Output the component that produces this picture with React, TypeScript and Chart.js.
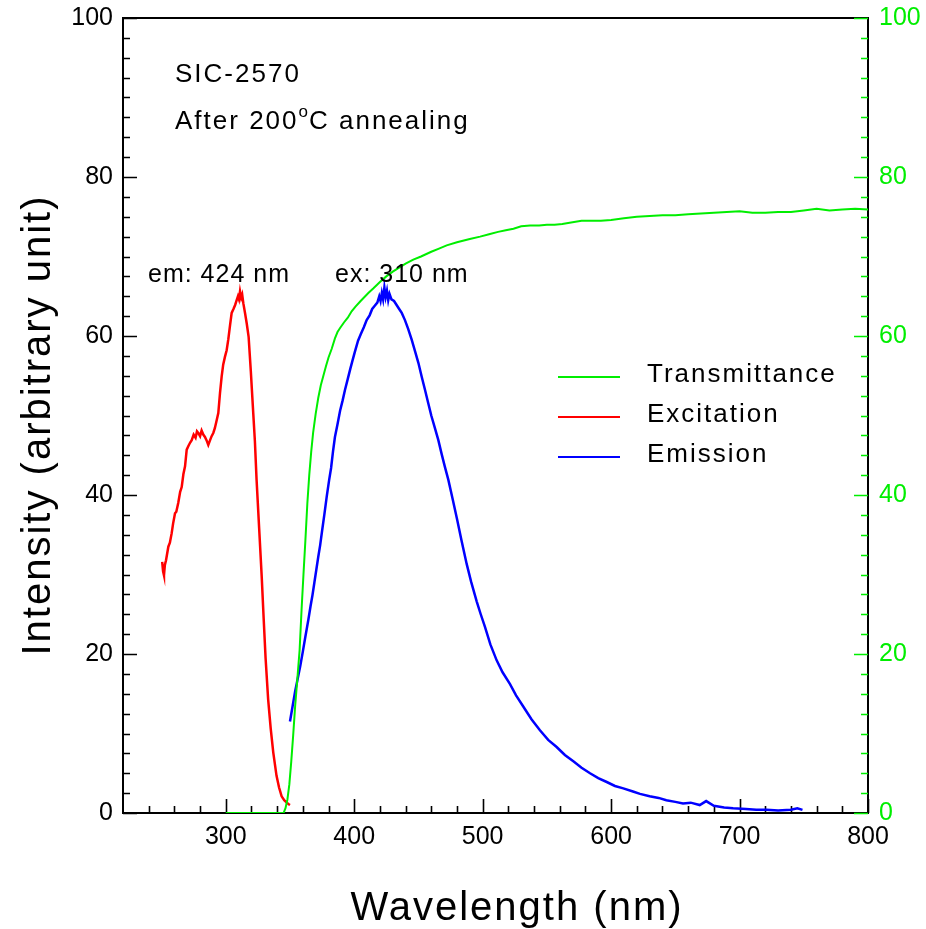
import React, { useEffect, useRef } from 'react';
import { Chart, registerables } from 'chart.js';

Chart.register(...registerables);

const GREEN = '#00ee00';
const RED = '#ff0000';
const BLUE = '#0000ff';
const FONT = 'Liberation Sans, Arial, Helvetica, sans-serif';

// Excitation (red), left axis
const excitationNm = [250.5, 251.2, 251.9, 252.6, 253.5, 255.3, 256.5, 257.9, 259, 260.5, 261.5, 263, 264.5, 265.7, 267, 268.3, 269.6, 271, 272.3, 273.5, 275, 276.5, 277.6, 278.6, 280, 281.2, 282.5, 283.8, 285, 286.4, 287.8, 289, 290.3, 291.5, 292.8, 294.2, 295.5, 296.8, 298, 299.4, 300.7, 302, 303.3, 304.6, 306, 307.3, 308.5, 309.5, 310.3, 311.1, 312, 312.8, 313.7, 315, 316.3, 317.8, 319.5, 321.4, 322.7, 324, 326, 328, 329.5, 331, 333, 335, 337, 339.5, 341.5, 343.5, 345.5, 347.5, 349, 350];
const excitationVal = [31.6, 30.4, 29.9, 31.2, 31.8, 33.5, 34.0, 35.2, 36.4, 37.7, 37.9, 39.0, 40.4, 41.0, 42.6, 43.6, 45.7, 46.2, 46.6, 46.9, 47.6, 47.2, 48.0, 47.8, 47.4, 48.1, 47.6, 47.3, 46.9, 46.3, 46.9, 47.4, 47.8, 48.4, 49.3, 50.3, 52.8, 54.9, 56.4, 57.4, 58.2, 59.6, 61.3, 62.9, 63.4, 63.9, 64.5, 65.0, 64.6, 65.6, 64.8, 65.2, 64.1, 62.9, 61.6, 59.9, 55.6, 50.3, 46.7, 41.9, 35.8, 29.7, 24.5, 19.5, 14.3, 10.6, 7.6, 4.7, 3.2, 2.1, 1.6, 1.3, 1.1, 1.0];

// Emission (blue), left axis
const emissionNm = [350, 352, 354, 356, 358, 360, 362, 364.3, 366, 367.5, 369, 370.5, 372, 373.5, 375, 376.8, 378.6, 380.5, 382, 383.5, 385, 387, 389, 391, 392.8, 395, 397, 398.5, 400.5, 403, 405, 407.5, 409.7, 412, 414, 416, 418, 419.5, 420.5, 421.5, 422.5, 423.5, 424.5, 425.5, 426.5, 427.5, 429, 431, 433, 435, 437, 439.5, 442, 444.8, 447.5, 450, 452.5, 455, 457.7, 460, 462.5, 465.5, 468, 470.5, 473.3, 476.5, 480, 483.5, 487.6, 491, 495.4, 498.5, 501.8, 506, 510.9, 515.5, 521.3, 526, 531.6, 538, 544.6, 551, 557.6, 564, 570.6, 577, 583.6, 590, 596.6, 603, 609.5, 617, 622.5, 630, 637, 643, 650, 656, 662, 669, 674, 680, 688, 695, 705, 713, 721, 730, 740, 745, 749];
const emissionVal = [11.5, 13.4, 15.3, 16.9, 18.5, 20.3, 22.2, 24.3, 26.0, 27.4, 29.0, 30.6, 32.2, 33.7, 35.5, 37.6, 39.8, 41.9, 43.4, 45.5, 47.3, 48.9, 50.6, 51.9, 53.2, 54.6, 55.9, 56.8, 58.0, 59.4, 60.2, 61.1, 62.0, 62.6, 63.4, 63.8, 64.2, 65.0, 64.4, 65.4, 64.6, 66.1, 64.9, 65.7, 64.5, 65.3, 64.6, 64.4, 63.9, 63.4, 62.9, 62.0, 60.9, 59.5, 58.0, 56.6, 54.9, 53.3, 51.5, 50.0, 48.6, 46.9, 45.2, 43.6, 41.9, 39.6, 37.0, 34.3, 31.3, 29.1, 26.6, 25.0, 23.4, 21.2, 19.2, 17.7, 16.2, 14.8, 13.4, 11.8, 10.4, 9.2, 8.3, 7.3, 6.5, 5.7, 5.0, 4.4, 3.9, 3.4, 3.1, 2.7, 2.4, 2.1, 1.9, 1.6, 1.4, 1.2, 1.3, 1.0, 1.5, 0.9, 0.7, 0.6, 0.5, 0.4, 0.4, 0.3, 0.4, 0.6, 0.4];

// Transmittance (green), right axis
const transNm = [300, 320, 340, 345, 346.5, 348, 349.5, 351, 352.5, 354, 356, 357.5, 359, 360.5, 362, 363.5, 365, 366.5, 368, 370, 372, 374, 376, 378, 380, 382.5, 385, 387, 389, 392, 395, 398, 401, 405, 408, 411, 415, 420, 425, 430, 435, 440, 446, 452, 460, 466, 472, 480, 490, 498, 505, 512, 518, 524, 530, 537, 544, 550, 556, 562, 570, 577, 585, 592, 600, 610, 620, 630, 640, 650, 660, 670, 680, 690, 700, 710, 720, 730, 740, 750, 760, 770, 780, 790, 800];
const transVal = [0, 0, 0, 0, 0.6, 1.7, 3.6, 6.5, 9.8, 13.4, 17.4, 20.5, 25.5, 30.0, 34.3, 38.9, 42.5, 45.4, 47.8, 50.2, 52.2, 53.8, 55.0, 56.2, 57.3, 58.4, 59.7, 60.5, 61.0, 61.7, 62.3, 63.1, 63.7, 64.4, 64.9, 65.4, 66.0, 66.8, 67.5, 68.1, 68.6, 69.1, 69.6, 70.0, 70.6, 71.0, 71.4, 71.8, 72.2, 72.5, 72.8, 73.1, 73.3, 73.5, 73.8, 73.9, 73.9, 74.0, 74.0, 74.1, 74.3, 74.5, 74.5, 74.5, 74.6, 74.8, 75.0, 75.1, 75.2, 75.2, 75.3, 75.4, 75.5, 75.6, 75.7, 75.5, 75.5, 75.6, 75.6, 75.8, 76.0, 75.8, 75.9, 76.0, 75.9];

const xMajorTicks = [300, 400, 500, 600, 700, 800];
const xMinorTicks = [240, 260, 280, 320, 340, 360, 380, 420, 440, 460, 480, 520, 540, 560, 580, 620, 640, 660, 680, 720, 740, 760, 780];
const yMajorTicks = [0, 20, 40, 60, 80, 100];
const yMinorStep = 2.5;

const legendLabels = ['Transmittance', 'Excitation', 'Emission'];
const legendColors = [GREEN, RED, BLUE];

const toPts = (xs: number[], ys: number[]) => xs.map((x, i) => ({ x, y: ys[i] }));

function drawSpaced(ctx: CanvasRenderingContext2D, text: string, x: number, y: number, font: string, color: string, spacing: number, align: CanvasTextAlign = 'left') {
  ctx.save();
  ctx.font = font;
  ctx.fillStyle = color;
  (ctx as any).letterSpacing = spacing + 'px';
  ctx.textAlign = align;
  ctx.textBaseline = 'alphabetic';
  ctx.fillText(text, x, y);
  const w = ctx.measureText(text).width;
  ctx.restore();
  return w;
}

const framePlugin = {
  id: 'framePlugin',
  beforeDatasetsDraw(chart: any) {
    const { ctx, chartArea: ca, scales } = chart;
    const xs = scales.x, ys = scales.y, y2 = scales.y2;
    ctx.save();
    ctx.strokeStyle = '#000';
    ctx.lineWidth = 2;
    ctx.strokeRect(ca.left, ca.top, ca.right - ca.left, ca.bottom - ca.top);
    ctx.lineWidth = 1.6;
    ctx.beginPath();
    for (const v of xMajorTicks) {
      const px = Math.round(xs.getPixelForValue(v)) + 0.5;
      ctx.moveTo(px, ca.bottom);
      ctx.lineTo(px, ca.bottom - 14);
    }
    for (const v of xMinorTicks) {
      const px = Math.round(xs.getPixelForValue(v)) + 0.5;
      ctx.moveTo(px, ca.bottom);
      ctx.lineTo(px, ca.bottom - 7);
    }
    ctx.stroke();
    ctx.beginPath();
    for (let v = 0; v <= 100; v += yMinorStep) {
      const py = Math.round(ys.getPixelForValue(v)) + 0.5;
      const len = yMajorTicks.includes(v) ? 14 : 7;
      ctx.moveTo(ca.left, py);
      ctx.lineTo(ca.left + len, py);
    }
    ctx.stroke();
    ctx.strokeStyle = GREEN;
    ctx.beginPath();
    for (let v = 0; v <= 100; v += yMinorStep) {
      const py = Math.round(y2.getPixelForValue(v)) + 0.5;
      const len = yMajorTicks.includes(v) ? 14 : 7;
      ctx.moveTo(ca.right, py);
      ctx.lineTo(ca.right - len, py);
    }
    ctx.stroke();
    ctx.restore();
  },
  afterDraw(chart: any) {
    const { ctx } = chart;
    drawSpaced(ctx, 'Wavelength (nm)', 517, 920, `40px ${FONT}`, '#000', 2, 'center');
    ctx.save();
    ctx.translate(50, 425);
    ctx.rotate(-Math.PI / 2);
    drawSpaced(ctx, 'Intensity (arbitrary unit)', 0, 0, `40px ${FONT}`, '#000', 2, 'center');
    ctx.restore();
    drawSpaced(ctx, 'SIC-2570', 175, 82, `26px ${FONT}`, '#000', 2);
    let x = 175;
    x += drawSpaced(ctx, 'After 200', x, 129, `26px ${FONT}`, '#000', 2);
    x += drawSpaced(ctx, 'o', x, 117, `17px ${FONT}`, '#000', 1);
    drawSpaced(ctx, 'C annealing', x, 129, `26px ${FONT}`, '#000', 2);
    drawSpaced(ctx, 'em: 424 nm', 148, 282, `25px ${FONT}`, '#000', 1);
    drawSpaced(ctx, 'ex: 310 nm', 335, 282, `25px ${FONT}`, '#000', 1);
    const ly = [377, 417, 457];
    legendLabels.forEach((lab, i) => {
      ctx.save();
      ctx.strokeStyle = legendColors[i];
      ctx.lineWidth = 2;
      ctx.beginPath();
      ctx.moveTo(558, ly[i]);
      ctx.lineTo(620, ly[i]);
      ctx.stroke();
      ctx.restore();
      drawSpaced(ctx, lab, 647, ly[i] + 5, `26px ${FONT}`, '#000', 2);
    });
  },
};

export default function App() {
  const ref = useRef<HTMLCanvasElement | null>(null);
  useEffect(() => {
    if (!ref.current) return;
    const noPadV = (s: any) => { s.paddingTop = 0; s.paddingBottom = 0; };
    const chart = new Chart(ref.current, {
      type: 'line',
      data: {
        datasets: [
          { label: 'Transmittance', data: toPts(transNm, transVal), yAxisID: 'y2', borderColor: GREEN, borderWidth: 2, pointRadius: 0, tension: 0 },
          { label: 'Excitation', data: toPts(excitationNm, excitationVal), yAxisID: 'y', borderColor: RED, borderWidth: 2.5, pointRadius: 0, tension: 0 },
          { label: 'Emission', data: toPts(emissionNm, emissionVal), yAxisID: 'y', borderColor: BLUE, borderWidth: 2.5, pointRadius: 0, tension: 0 },
        ],
      },
      options: {
        responsive: false,
        animation: false,
        devicePixelRatio: 1,
        layout: { padding: { top: 18, left: 0, right: 0, bottom: 0 } },
        plugins: { legend: { display: false }, tooltip: { enabled: false } },
        scales: {
          x: {
            type: 'linear',
            position: 'bottom',
            min: 220,
            max: 800,
            grid: { display: false, drawTicks: false },
            border: { display: false },
            ticks: { color: '#000', font: { family: FONT, size: 25 }, padding: 9, maxRotation: 0 },
            afterBuildTicks: (s: any) => { s.ticks = xMajorTicks.map((v) => ({ value: v })); },
            afterFit: (s: any) => { s.height = 116; s.paddingLeft = 0; s.paddingRight = 0; },
          },
          y: {
            type: 'linear',
            position: 'left',
            min: 0,
            max: 100,
            grid: { display: false, drawTicks: false },
            border: { display: false },
            ticks: { color: '#000', font: { family: FONT, size: 25 }, padding: 10 },
            afterBuildTicks: (s: any) => { s.ticks = yMajorTicks.map((v) => ({ value: v })); },
            afterFit: (s: any) => { s.width = 123; noPadV(s); },
          },
          y2: {
            type: 'linear',
            position: 'right',
            min: 0,
            max: 100,
            grid: { display: false, drawTicks: false },
            border: { display: false },
            ticks: { color: GREEN, font: { family: FONT, size: 25 }, padding: 11 },
            afterBuildTicks: (s: any) => { s.ticks = yMajorTicks.map((v) => ({ value: v })); },
            afterFit: (s: any) => { s.width = 58; noPadV(s); },
          },
        },
      },
      plugins: [framePlugin],
    } as any);
    return () => chart.destroy();
  }, []);
  return (
    <div style={{ position: 'fixed', left: 0, top: 0, width: 926, height: 929, background: '#fff' }}>
      <canvas ref={ref} width={926} height={929} style={{ display: 'block' }} />
    </div>
  );
}
